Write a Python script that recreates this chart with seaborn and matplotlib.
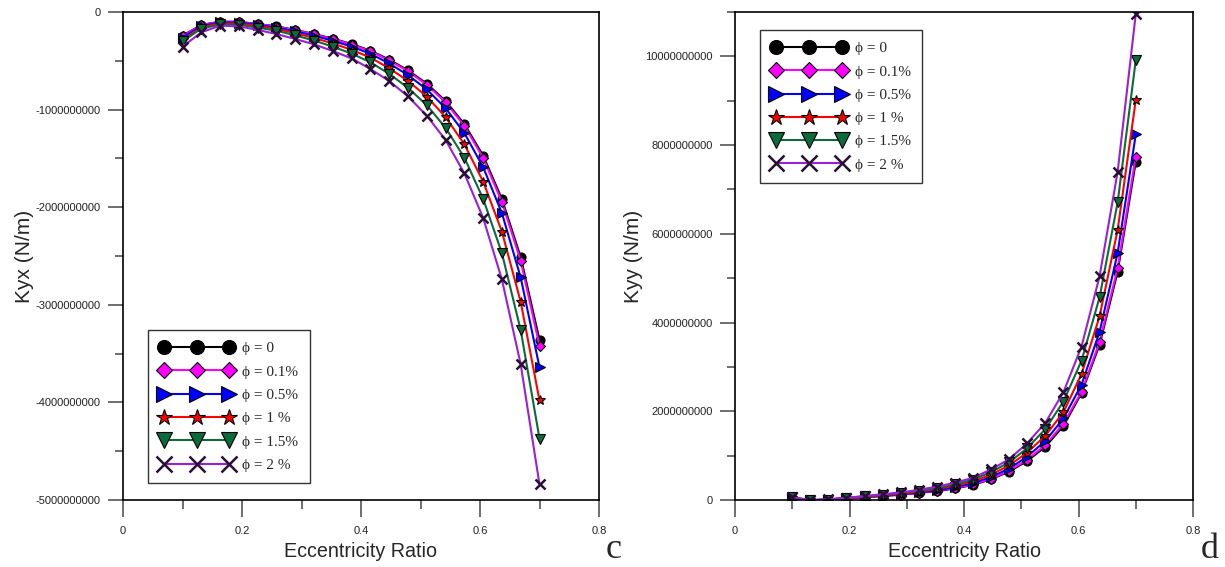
import numpy as np
import pandas as pd
import matplotlib
matplotlib.use("Agg")
import matplotlib.pyplot as plt
from matplotlib.ticker import MultipleLocator, FuncFormatter
import seaborn as sns

# ---------------- data ----------------
ecc = [0.1, 0.1316, 0.1632, 0.1947, 0.2263, 0.2579, 0.2895, 0.3211, 0.3526, 0.3842,
       0.4158, 0.4474, 0.4789, 0.5105, 0.5421, 0.5737, 0.6053, 0.6368, 0.6684, 0.7]

labels = ["ϕ = 0", "ϕ = 0.1%", "ϕ = 0.5%", "ϕ = 1 %", "ϕ = 1.5%", "ϕ = 2 %"]

# Kyx (units of 1e9 N/m)
kyx_0 = [-0.243, -0.133, -0.099, -0.100, -0.123, -0.147, -0.184, -0.225, -0.273, -0.328,
         -0.396, -0.488, -0.598, -0.734, -0.912, -1.148, -1.472, -1.916, -2.513, -3.36]
kyx_01 = [-0.247, -0.135, -0.100, -0.102, -0.125, -0.149, -0.187, -0.229, -0.277, -0.333,
          -0.402, -0.496, -0.607, -0.745, -0.926, -1.166, -1.495, -1.946, -2.55, -3.42]
kyx_05 = [-0.262, -0.144, -0.107, -0.108, -0.133, -0.159, -0.199, -0.243, -0.295, -0.354,
          -0.428, -0.527, -0.646, -0.793, -0.985, -1.240, -1.590, -2.06, -2.72, -3.64]
kyx_1 = [-0.287, -0.157, -0.117, -0.118, -0.145, -0.173, -0.217, -0.266, -0.322, -0.387,
         -0.467, -0.576, -0.706, -0.866, -1.076, -1.355, -1.737, -2.25, -2.97, -3.98]
kyx_15 = [-0.300, -0.170, -0.128, -0.130, -0.160, -0.191, -0.239, -0.293, -0.355, -0.426,
          -0.515, -0.634, -0.777, -0.954, -1.186, -1.492, -1.914, -2.47, -3.26, -4.37]
kyx_2 = [-0.355, -0.208, -0.140, -0.147, -0.184, -0.225, -0.277, -0.331, -0.400, -0.475,
         -0.584, -0.707, -0.864, -1.062, -1.311, -1.653, -2.11, -2.74, -3.61, -4.84]

# Kyy (units of 1e9 N/m)
kyy_0 = [0.05, -0.01, 0.0, 0.03, 0.06, 0.09, 0.12, 0.16, 0.20, 0.26,
         0.34, 0.47, 0.64, 0.88, 1.20, 1.67, 2.41, 3.50, 5.15, 7.62]
kyy_01 = [0.05, -0.01, 0.0, 0.03, 0.06, 0.09, 0.12, 0.16, 0.21, 0.27,
          0.35, 0.48, 0.66, 0.91, 1.24, 1.72, 2.44, 3.56, 5.23, 7.74]
kyy_05 = [0.05, -0.01, 0.01, 0.04, 0.07, 0.10, 0.13, 0.17, 0.22, 0.29,
          0.38, 0.52, 0.71, 0.98, 1.33, 1.84, 2.60, 3.79, 5.57, 8.24]
kyy_1 = [0.05, -0.01, 0.01, 0.04, 0.07, 0.11, 0.14, 0.19, 0.25, 0.32,
         0.42, 0.57, 0.78, 1.07, 1.45, 1.98, 2.84, 4.14, 6.09, 9.01]
kyy_15 = [0.06, 0.0, 0.01, 0.05, 0.08, 0.12, 0.16, 0.21, 0.27, 0.35,
          0.46, 0.63, 0.85, 1.17, 1.60, 2.22, 3.14, 4.57, 6.71, 9.91]
kyy_2 = [0.06, 0.0, 0.02, 0.05, 0.09, 0.13, 0.17, 0.23, 0.30, 0.39,
         0.50, 0.69, 0.92, 1.28, 1.74, 2.43, 3.46, 5.04, 7.40, 10.95]

kyx_series = [kyx_0, kyx_01, kyx_05, kyx_1, kyx_15, kyx_2]
kyy_series = [kyy_0, kyy_01, kyy_05, kyy_1, kyy_15, kyy_2]
SCALE = 1e9

# ---------------- styles ----------------
line_colors = ["#000000", "#FF00FF", "#0000FF", "#FF0000", "#0B6B3A", "#9A1FD6"]
face_colors = ["#000000", "#FF00FF", "#0000FF", "#FF0000", "#0B6B3A", "#2A0E36"]
markers = ["o", "D", ">", "*", "v", "x"]
msizes = [6.5, 5.5, 7, 7.5, 7, 7]

sns.set_theme(style="ticks")
plt.rcParams["font.family"] = ["Liberation Sans", "DejaVu Sans"]

fig = plt.figure(figsize=(12.25, 5.67), dpi=100)
axL = fig.add_axes([123 / 1225, 67 / 567, 476 / 1225, 488 / 567])
axR = fig.add_axes([735 / 1225, 67 / 567, 458 / 1225, 488 / 567])


def draw(ax, series):
    for i, ys in enumerate(series):
        df = pd.DataFrame({"x": ecc, "y": np.array(ys) * SCALE})
        mk = markers[i]
        kw = dict(marker=mk, markersize=msizes[i], linewidth=1.5,
                  color=line_colors[i], label=labels[i])
        if mk == "x":
            kw.update(markeredgecolor=face_colors[i], markeredgewidth=1.8)
        else:
            kw.update(markerfacecolor=face_colors[i], markeredgecolor="black",
                      markeredgewidth=0.8)
        sns.lineplot(data=df, x="x", y="y", ax=ax, sort=False, estimator=None, **kw)


draw(axL, kyx_series)
draw(axR, kyy_series)

int_fmt = FuncFormatter(lambda v, p: f"{int(round(v))}")
x_fmt = FuncFormatter(lambda v, p: f"{v:g}")

for ax in (axL, axR):
    ax.set_xlim(0, 0.8)
    ax.xaxis.set_major_locator(MultipleLocator(0.2))
    ax.xaxis.set_minor_locator(MultipleLocator(0.1))
    ax.xaxis.set_major_formatter(x_fmt)
    ax.yaxis.set_major_formatter(int_fmt)
    ax.tick_params(axis="y", which="major", direction="out", length=11, width=1.2,
                   color="#555555", labelsize=8, labelcolor="#222222", pad=5)
    ax.tick_params(axis="y", which="minor", direction="out", length=5.5, width=1.2,
                   color="#555555")
    ax.tick_params(axis="x", which="major", direction="out", length=12, width=1.2,
                   color="#555555", labelsize=8, labelcolor="#222222", pad=7)
    ax.tick_params(axis="x", which="minor", direction="out", length=6.5, width=1.2,
                   color="#555555")
    for s in ax.spines.values():
        s.set_visible(True)
        s.set_color("black")
        s.set_linewidth(1.2)
    ax.set_xlabel("Eccentricity Ratio", fontsize=14.2, labelpad=4)
    ax.grid(False)

axL.set_ylim(-5e9, 0)
axL.yaxis.set_major_locator(MultipleLocator(1e9))
axL.yaxis.set_minor_locator(MultipleLocator(0.5e9))
axL.set_ylabel("Kyx (N/m)", fontsize=15, labelpad=1.5)

axR.set_ylim(0, 1.1e10)
axR.yaxis.set_major_locator(MultipleLocator(2e9))
axR.yaxis.set_minor_locator(MultipleLocator(1e9))
axR.set_ylabel("Kyy (N/m)", fontsize=15, labelpad=1.5)

leg_font = {"family": ["Liberation Serif", "DejaVu Serif"], "size": 11}
for ax, loc in ((axL, (0.052, 0.348)), (axR, (0.055, 0.963))):
    leg = ax.legend(loc="upper left", bbox_to_anchor=loc, numpoints=3,
                    markerscale=1.55, handlelength=4.9, handletextpad=0.55,
                    labelspacing=0.63, borderpad=0.75, prop=leg_font,
                    frameon=True, fancybox=False, borderaxespad=0)
    leg.get_frame().set_edgecolor("black")
    leg.get_frame().set_linewidth(1.0)

fig.text(614 / 1225, 1 - 550 / 567, "c", fontsize=26, ha="center", va="center",
         family=["Liberation Serif", "DejaVu Serif"])
fig.text(1210 / 1225, 1 - 549 / 567, "d", fontsize=26, ha="center", va="center",
         family=["Liberation Serif", "DejaVu Serif"])

fig.savefig("out.png", dpi=100)
